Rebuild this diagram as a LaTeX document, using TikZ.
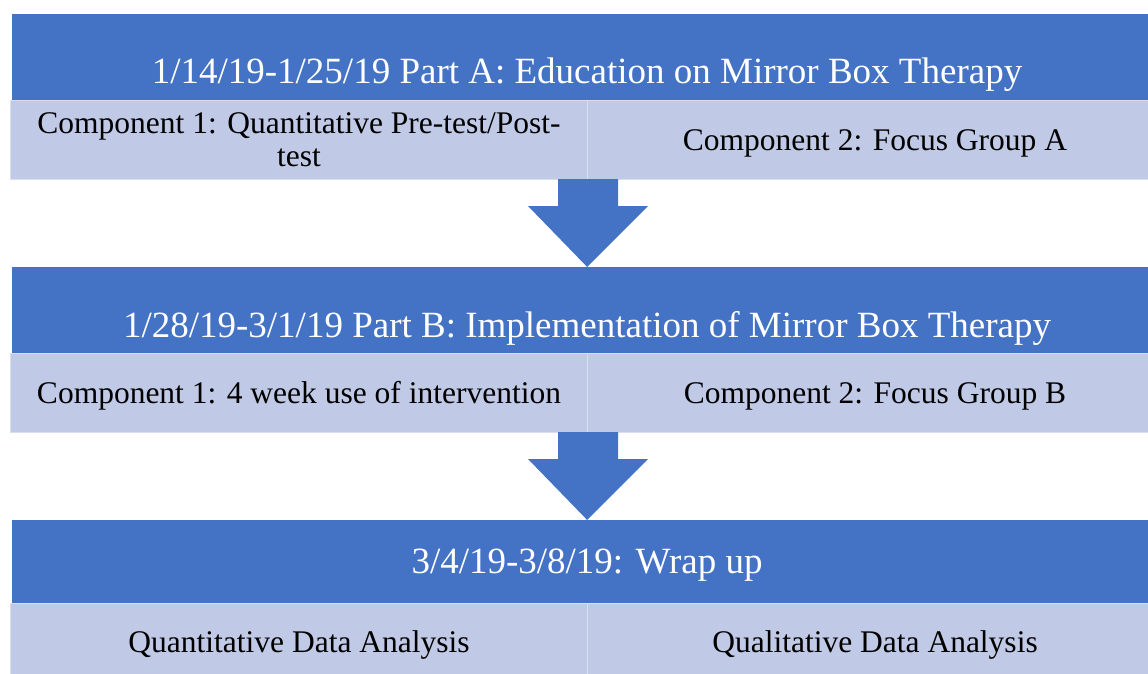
\documentclass[tikz,border=0pt]{standalone}
\usepackage{fontspec}
\setmainfont{Liberation Serif}
\usetikzlibrary{calc}
\definecolor{hdrblue}{HTML}{4472C4}
\definecolor{cellblue}{HTML}{C0C9E5}
\definecolor{celledge}{HTML}{D9DFF0}
\tikzset{
  header/.style={rectangle, fill=hdrblue, inner sep=0pt, anchor=north west,
    minimum width=1150pt},
  cell/.style={rectangle, fill=cellblue, draw=celledge, line width=1pt,
    inner sep=0pt, anchor=north west, minimum width=577pt, minimum height=79pt},
  hdrtext/.style={text=white, font=\fontsize{37}{41}\selectfont, inner sep=0pt, anchor=base},
  celltext/.style={text=black, font=\fontsize{31.5}{33}\selectfont, inner sep=0pt,
    anchor=base, align=center},
  blockarrow/.style={fill=hdrblue}
}
\begin{document}
\begin{tikzpicture}[x=1pt,y=-1pt]
\useasboundingbox (0,0) rectangle (1148,673);

% Part A
\node[header, minimum height=86pt] (h1) at (12,14) {};
\node[cell] (c1a) at (10,100) {};
\node[cell] (c1b) at (587,100) {};
\node[hdrtext] (t1) at (587,83) {1/14/19-1/25/19 Part A: Education on Mirror Box Therapy};
\node[celltext] (t1a) at (299,133) {Component 1: Quantitative Pre-test/Post-};
\node[celltext] (t1a2) at (299,166) {test};
\node[celltext] (t1b) at (875,150) {Component 2: Focus Group A};

% Part B
\node[header, minimum height=86pt] (h2) at (12,267) {};
\node[cell] (c2a) at (10,353) {};
\node[cell] (c2b) at (587,353) {};
\node[hdrtext] (t2) at (587,337) {1/28/19-3/1/19 Part B: Implementation of Mirror Box Therapy};
\node[celltext] (t2a) at (299,403) {Component 1: 4 week use of intervention};
\node[celltext] (t2b) at (875,403) {Component 2: Focus Group B};

% Wrap up
\node[header, minimum height=83pt] (h3) at (12,520) {};
\node[cell] (c3a) at (10,603) {};
\node[cell] (c3b) at (587,603) {};
\node[hdrtext] (t3) at (587,573) {3/4/19-3/8/19: Wrap up};
\node[celltext] (t3a) at (299,652) {Quantitative Data Analysis};
\node[celltext] (t3b) at (875,652) {Qualitative Data Analysis};

% block arrows between the stages
\foreach \from/\to in {c1a/h2, c2a/h3}{
  \fill[blockarrow] ($(\from.south east)+(-30,-1)$) -- ($(\from.south east)+(30,-1)$)
    -- ($(\from.south east)+(30,26)$) -- ($(\from.south east)+(60,26)$)
    -- (\to.north) -- ($(\from.south east)+(-60,26)$)
    -- ($(\from.south east)+(-30,26)$) -- cycle;
}
\end{tikzpicture}
\end{document}
